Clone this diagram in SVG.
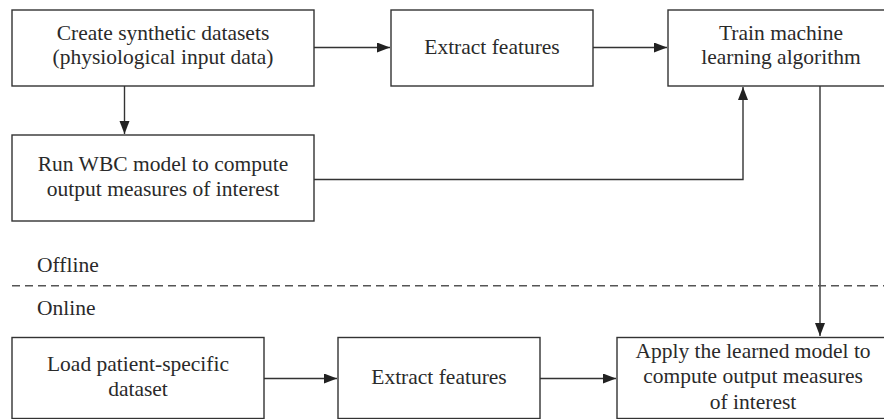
<svg xmlns="http://www.w3.org/2000/svg" width="884" height="419" viewBox="0 0 884 419">
<defs>
<style>
.box{fill:#fff;stroke:#333;stroke-width:1.4}
.lbl{font-family:"Liberation Serif","Times New Roman",serif;font-size:21.5px;fill:#2a2a2a;text-anchor:middle}
.side{font-family:"Liberation Serif","Times New Roman",serif;font-size:21.5px;fill:#2a2a2a}
.edge{fill:none;stroke:#333;stroke-width:1.4}
.dash{fill:none;stroke:#555;stroke-width:1.4;stroke-dasharray:8 5}
</style>
<marker id="ah" markerUnits="userSpaceOnUse" markerWidth="14" markerHeight="12" refX="13" refY="5" orient="auto">
<path d="M0,0 L13,5 L0,10 Z" fill="#222"/>
</marker>
</defs>
<rect width="884" height="419" fill="#fff"/>
<g id="connectors">
<line class="edge" x1="314" y1="47.5" x2="390" y2="47.5" marker-end="url(#ah)"/>
<line class="edge" x1="593" y1="47.5" x2="667" y2="47.5" marker-end="url(#ah)"/>
<line class="edge" x1="124.5" y1="86" x2="124.5" y2="134" marker-end="url(#ah)"/>
<polyline class="edge" points="314,179.5 743,179.5 743,87" marker-end="url(#ah)"/>
<line class="edge" x1="820" y1="86" x2="820" y2="336" marker-end="url(#ah)"/>
<line class="edge" x1="264" y1="378.5" x2="337" y2="378.5" marker-end="url(#ah)"/>
<line class="edge" x1="540" y1="378.5" x2="616" y2="378.5" marker-end="url(#ah)"/>
</g>
<g id="separator">
<line class="dash" x1="12" y1="285.7" x2="884" y2="285.7"/>
<text class="side" x="37" y="271.5">Offline</text>
<text class="side" x="37" y="315">Online</text>
</g>
<g id="n1">
<rect class="box" x="12" y="10" width="302" height="76"/>
<text class="lbl" x="163" y="39.5">Create synthetic datasets</text>
<text class="lbl" x="163" y="63.5">(physiological input data)</text>
</g>
<g id="n2">
<rect class="box" x="391" y="10" width="202" height="76"/>
<text class="lbl" x="492" y="53.5">Extract features</text>
</g>
<g id="n3">
<rect class="box" x="668" y="10" width="226" height="76"/>
<text class="lbl" x="781" y="39.5">Train machine</text>
<text class="lbl" x="781" y="63.5">learning algorithm</text>
</g>
<g id="n4">
<rect class="box" x="12" y="135" width="302" height="86"/>
<text class="lbl" x="163" y="170.5">Run WBC model to compute</text>
<text class="lbl" x="163" y="196">output measures of interest</text>
</g>
<g id="n5">
<rect class="box" x="12" y="337.5" width="252" height="81"/>
<text class="lbl" x="138" y="370.5">Load patient-specific</text>
<text class="lbl" x="138" y="396">dataset</text>
</g>
<g id="n6">
<rect class="box" x="338" y="337.5" width="202" height="81"/>
<text class="lbl" x="439" y="383.5">Extract features</text>
</g>
<g id="n7">
<rect class="box" x="617" y="337.5" width="273" height="81"/>
<text class="lbl" x="753" y="357.5">Apply the learned model to</text>
<text class="lbl" x="753" y="383">compute output measures</text>
<text class="lbl" x="753" y="408.5">of interest</text>
</g>
</svg>
